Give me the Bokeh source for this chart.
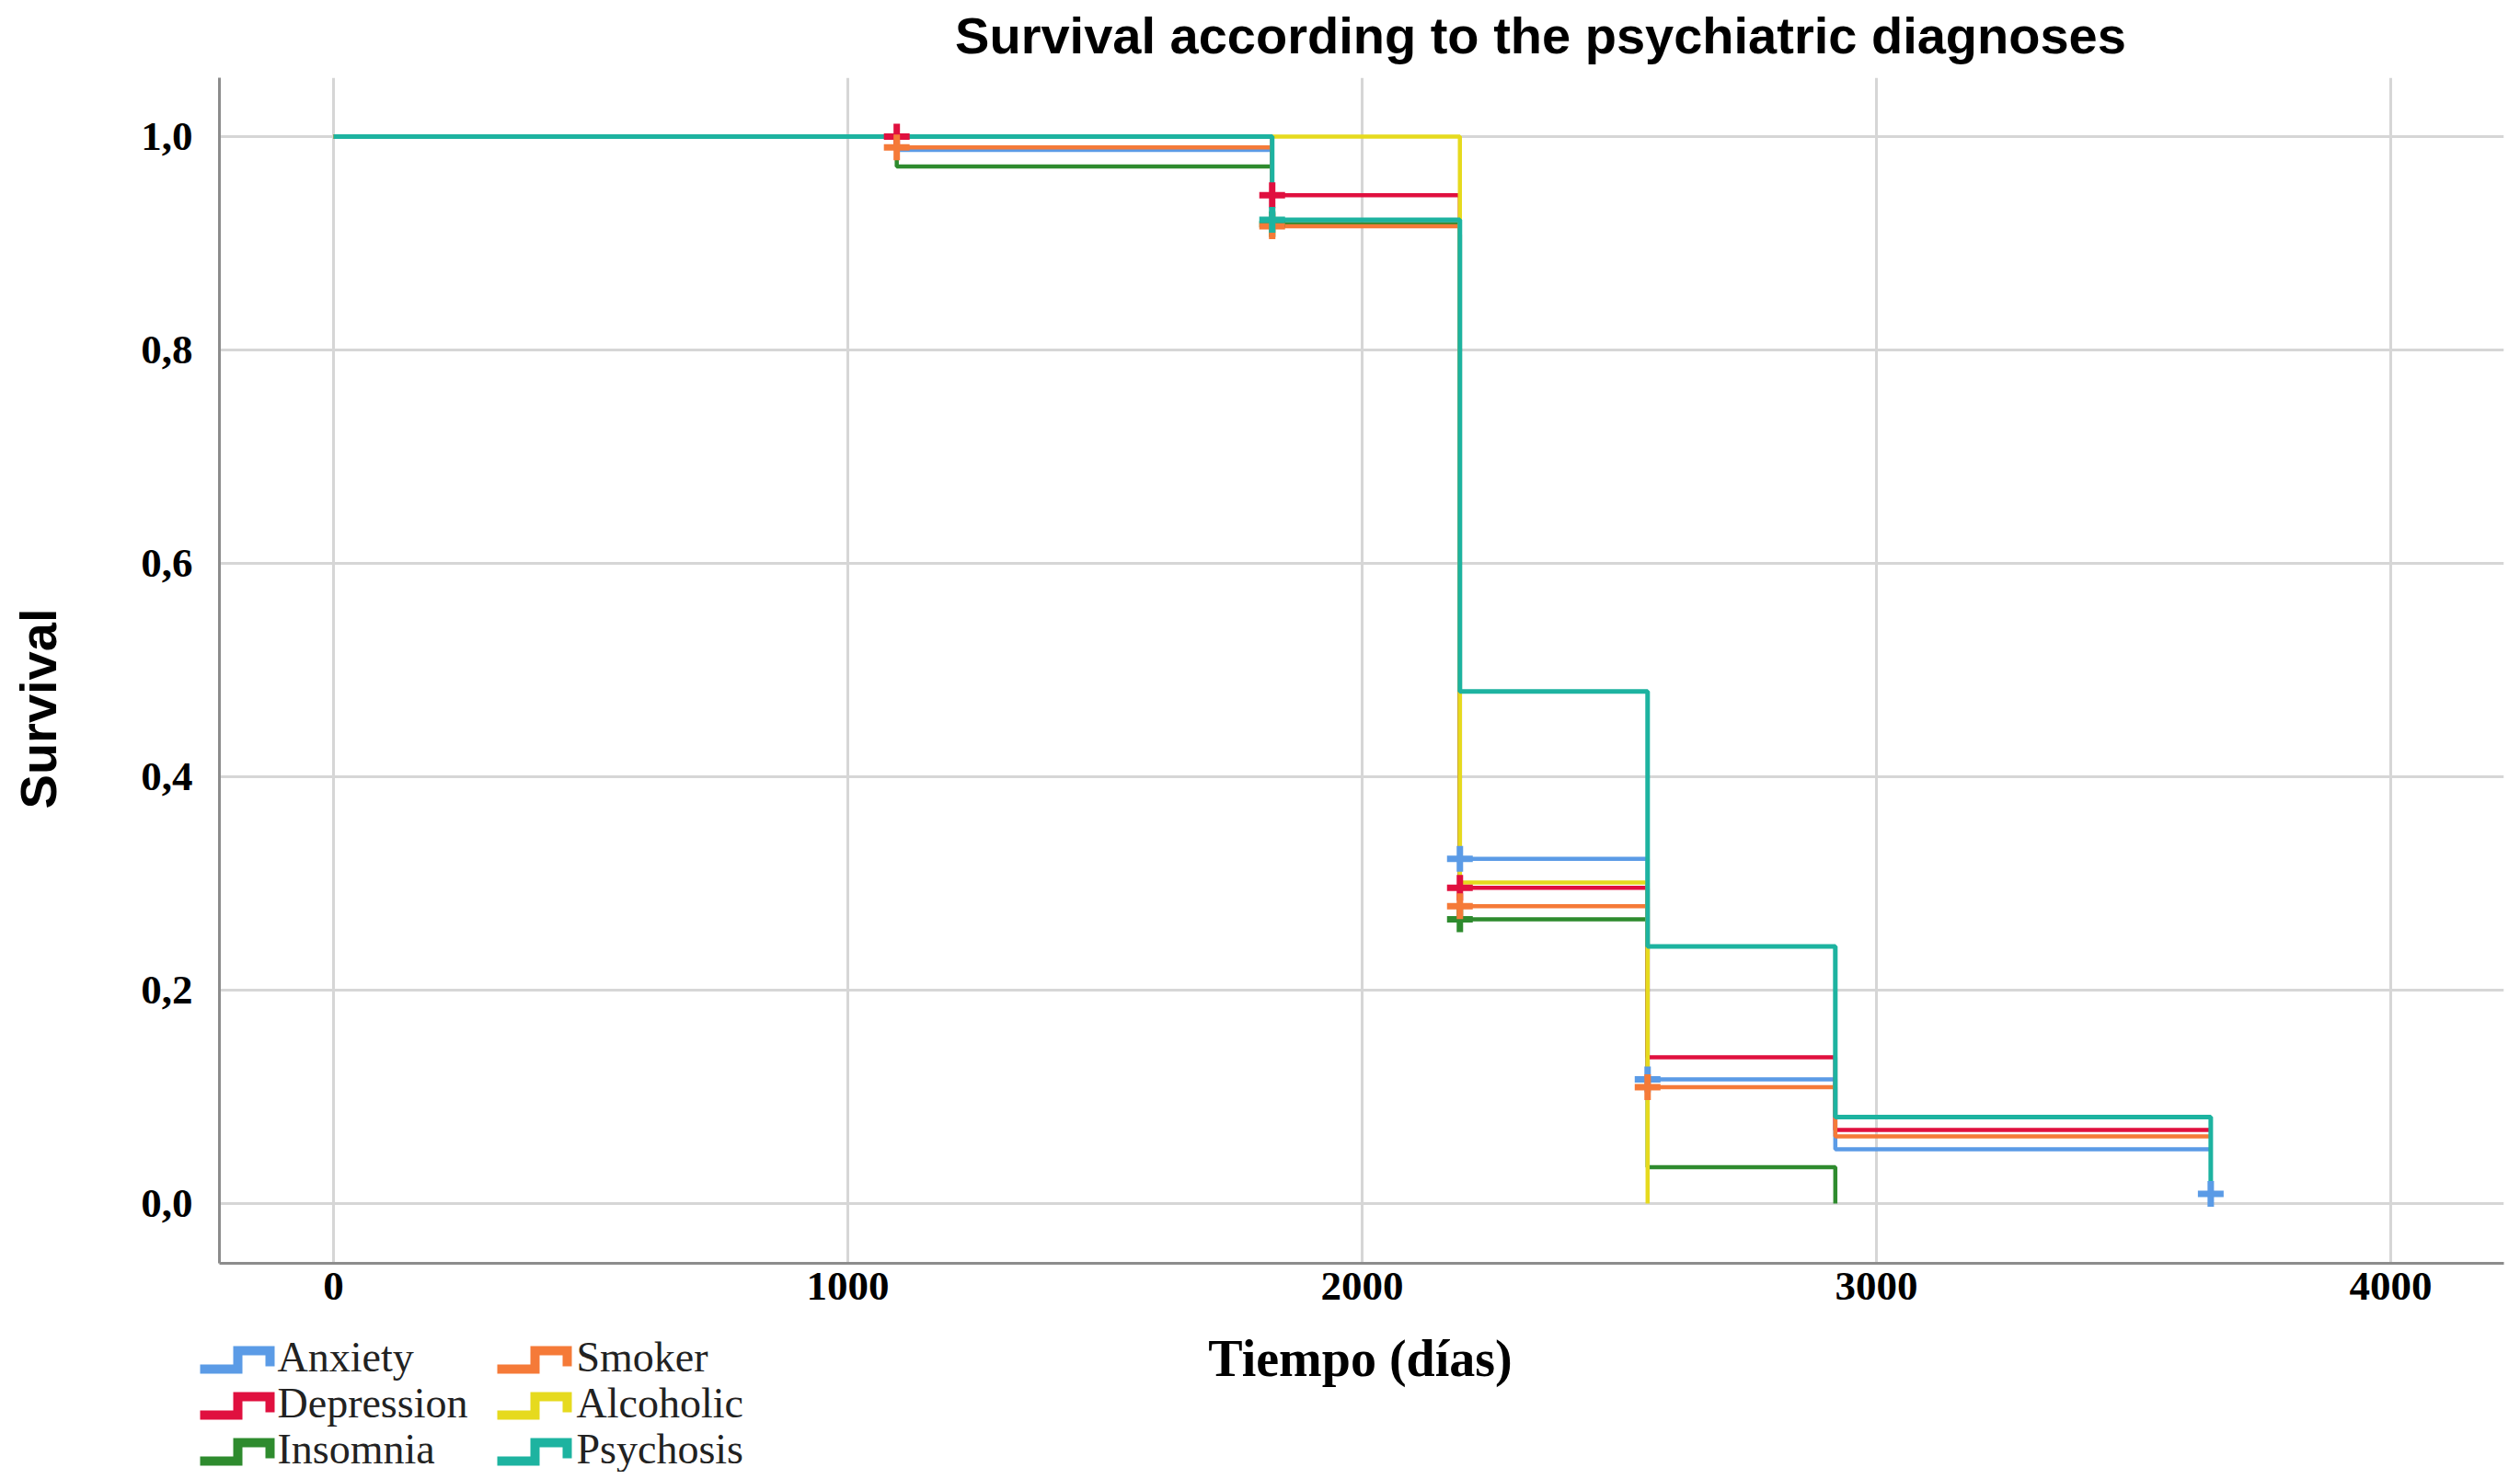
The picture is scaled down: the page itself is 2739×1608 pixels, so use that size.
import math
from bokeh.plotting import figure
from bokeh.models import FixedTicker, Range1d
from bokeh.core.properties import value
from bokeh.embed import file_html
from bokeh.resources import INLINE

# ---------------- data ----------------
series_names = ["Anxiety", "Depression", "Insomnia", "Smoker", "Alcoholic", "Psychosis"]
series_colors = ["#5B9BE6", "#E0103F", "#2E8B2E", "#F57A38", "#E6DA1E", "#1DB3A0"]

anxiety_t = [0, 1095, 1825, 2190, 2555, 2920, 3650]
anxiety_s = [1.0, 0.9875, 0.918, 0.323, 0.1165, 0.051, 0.051]
depression_t = [0, 1825, 2190, 2555, 2920, 3650]
depression_s = [1.0, 0.945, 0.296, 0.137, 0.069, 0.069]
insomnia_t = [0, 1095, 1825, 2190, 2555, 2920]
insomnia_s = [1.0, 0.972, 0.918, 0.2665, 0.034, 0.0]
smoker_t = [0, 1095, 1825, 2190, 2555, 2920, 3650]
smoker_s = [1.0, 0.99, 0.916, 0.2786, 0.109, 0.063, 0.063]
alcoholic_t = [0, 2190, 2555]
alcoholic_s = [1.0, 0.301, 0.0]
psychosis_t = [0, 1825, 2190, 2555, 2920, 3650]
psychosis_s = [1.0, 0.922, 0.48, 0.241, 0.081, 0.009]

# censored observations (+ marks)
anxiety_cens_t = [2190, 2555, 3650]
anxiety_cens_s = [0.323, 0.1165, 0.009]
depression_cens_t = [1095, 1825, 2190]
depression_cens_s = [1.0, 0.945, 0.296]
insomnia_cens_t = [1825, 2190]
insomnia_cens_s = [0.918, 0.2665]
smoker_cens_t = [1095, 1825, 2190, 2555]
smoker_cens_s = [0.99, 0.916, 0.2786, 0.109]
alcoholic_cens_t = []
alcoholic_cens_s = []
psychosis_cens_t = [1825]
psychosis_cens_s = [0.922]

x_ticks = [0, 1000, 2000, 3000, 4000]
y_ticks = [0.0, 0.2, 0.4, 0.6, 0.8, 1.0]
y_tick_labels = ["0,0", "0,2", "0,4", "0,6", "0,8", "1,0"]

title_text = "Survival according to the psychiatric diagnoses"
y_label_text = "Survival"
x_label_text = "Tiempo (días)"

series_t = [anxiety_t, depression_t, insomnia_t, smoker_t, alcoholic_t, psychosis_t]
series_s = [anxiety_s, depression_s, insomnia_s, smoker_s, alcoholic_s, psychosis_s]
cens_t = [anxiety_cens_t, depression_cens_t, insomnia_cens_t, smoker_cens_t, alcoholic_cens_t, psychosis_cens_t]
cens_s = [anxiety_cens_s, depression_cens_s, insomnia_cens_s, smoker_cens_s, alcoholic_cens_s, psychosis_cens_s]

# ---------------- main plot ----------------
W, H = 2723, 1592
FL, FR, FT, FB = 238, 2721, 84, 1373   # frame edges in canvas px

p = figure(width=W, height=H, output_backend="svg", toolbar_location=None,
           x_range=Range1d(-222, 4220), y_range=Range1d(-0.056, 1.0552),
           min_border_left=FL, min_border_right=W - FR,
           min_border_top=FT, min_border_bottom=H - FB)
p.outline_line_color = None
p.background_fill_color = "white"
p.border_fill_color = "white"

for ax in (p.xaxis[0], p.yaxis[0]):
    ax.axis_line_color = "#8c8c8c"
    ax.axis_line_width = 3
    ax.major_tick_line_color = None
    ax.minor_tick_line_color = None
    ax.major_tick_in = 0
    ax.major_tick_out = 0
    ax.major_label_text_font = "Liberation Serif"
    ax.major_label_text_font_style = "bold"
    ax.major_label_text_font_size = "45px"
    ax.major_label_text_color = "black"

p.xaxis.ticker = FixedTicker(ticks=x_ticks)
p.yaxis.ticker = FixedTicker(ticks=y_ticks)
p.yaxis.major_label_overrides = {t: l for t, l in zip(y_ticks, y_tick_labels)}
p.xaxis.major_label_standoff = 10
p.yaxis.major_label_standoff = 29

for g in (p.xgrid[0], p.ygrid[0]):
    g.grid_line_color = "#d6d6d6"
    g.grid_line_width = 3

for name, t, s, c in zip(series_names, series_t, series_s, series_colors):
    lw = 5 if name == "Psychosis" else 4.5
    p.step(t, s, mode="after", line_color=c, line_width=lw)

for t, s, c in zip(cens_t, cens_s, series_colors):
    if t:
        p.scatter(t, s, marker="cross", size=28, line_color=c, line_width=7)

# ---------------- transparent overlay (separate root) for titles and legend ----------------
o = figure(width=W, height=H, output_backend="svg", toolbar_location=None,
           x_range=Range1d(0, W), y_range=Range1d(H, 0),
           x_axis_type=None, y_axis_type=None,
           min_border_left=0, min_border_right=0, min_border_top=0, min_border_bottom=0)
o.outline_line_color = None
o.background_fill_alpha = 0
o.border_fill_alpha = 0
o.grid.visible = False
o.styles = {"position": "absolute", "left": "8px", "top": "8px"}

TB = 20  # baseline correction (text renders lower than its anchor)

o.text(x=[1666], y=[50 - TB], text=[title_text], text_align="center", text_baseline="alphabetic",
       text_font=value("Liberation Sans"), text_font_style="bold",
       text_font_size=value("56px"), text_color="black")
o.text(x=[53 - TB], y=[762], text=[y_label_text], angle=math.pi / 2,
       text_align="center", text_baseline="alphabetic",
       text_font=value("Liberation Sans"), text_font_style="bold",
       text_font_size=value("56px"), text_color="black")
o.text(x=[1470], y=[1488 - TB], text=[x_label_text], text_align="center", text_baseline="alphabetic",
       text_font=value("Liberation Serif"), text_font_style="bold",
       text_font_size=value("56px"), text_color="black")

# legend: 2 columns x 3 rows, step-shaped icons
icon_dx = [0, 41, 41, 76, 76]
icon_dy = [25, 25, 5, 5, 22]
col_icon_x = [209, 532]
col_text_x = [293, 618]
row_top = [1455, 1505, 1555]
for i, (name, c) in enumerate(zip(series_names, series_colors)):
    col, row = i // 3, i % 3
    ox, oy = col_icon_x[col], row_top[row]
    o.line([ox + d for d in icon_dx], [oy + d for d in icon_dy],
           line_color=c, line_width=10, line_join="miter")
    o.text(x=[col_text_x[col]], y=[oy + 32 - TB], text=[name], text_align="left",
           text_baseline="alphabetic", text_font=value("Liberation Serif"),
           text_font_size=value("46px"), text_color="#222222")

open("out.html", "w").write(file_html([p, o], INLINE))
